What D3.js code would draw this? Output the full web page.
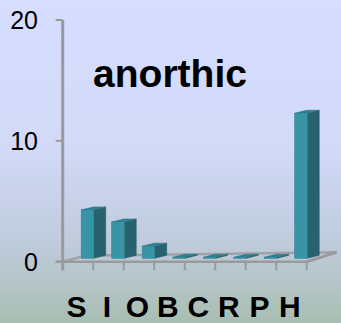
<!DOCTYPE html>
<html>
    <head>
        <script type="text/javascript" src="https://cdn.jsdelivr.net/npm/d3@7"></script>
        <style type="text/css">
            body { margin: 0; }
            text { font-family: "Liberation Sans", Arial, sans-serif; fill: black; }
        </style>
    </head>
    <body>
        <script type="text/javascript">

            // data
            var categories = ["S", "I", "O", "B", "C", "R", "P", "H"];
            var values = [4, 3, 1, 0, 0, 0, 0, 12];
            var yTicks = [0, 10, 20];
            var title = "anorthic";

            var w = 341;
            var h = 323;

            var svg = d3.select("body")
                        .append("svg")
                        .attr("width", w)
                        .attr("height", h);

            // background gradient
            var grad = svg.append("defs").append("linearGradient")
                          .attr("id", "bg")
                          .attr("x1", 0).attr("y1", 0)
                          .attr("x2", 0).attr("y2", 1);
            grad.append("stop").attr("offset", "0%").attr("stop-color", "#d6ddff");
            grad.append("stop").attr("offset", "45%").attr("stop-color", "#d2daf8");
            grad.append("stop").attr("offset", "75%").attr("stop-color", "#c0cbdd");
            grad.append("stop").attr("offset", "100%").attr("stop-color", "#a8beb1");

            svg.append("rect")
               .attr("width", w)
               .attr("height", h)
               .attr("fill", "url(#bg)");

            // scales
            var x = d3.scaleBand()
                      .domain(categories)
                      .range([62.7, 306.7]);

            var y = d3.scaleLinear()
                      .domain([0, 20])
                      .range([261.7, 20]);

            var axisColor = "#9a9a9a";

            // 3d depth of the floor and of the bars
            var floorDx = 30, floorDy = -9.5;
            var barDx = 12, barDy = -3;
            var barOff = 18.5, barW = 12.5, barLift = 3.4;

            // floor
            var x0 = x.range()[0], x1 = x.range()[1], y0 = y(0);
            svg.append("path")
               .attr("d", "M" + x0 + "," + y0 + "L" + (x0 + 22) + "," + (y0 - 6) +
                          "L" + (x1 + floorDx) + "," + (y0 + floorDy) +
                          "L" + x1 + "," + y0)
               .attr("fill", "none")
               .attr("stroke", "#a0a2a8")
               .attr("stroke-width", 2.5);

            // x ticks
            svg.selectAll("line.xtick")
               .data(categories.map(function(c) { return x(c); }).concat([x1]))
               .enter()
               .append("line")
               .attr("class", "xtick")
               .attr("x1", function(d) { return d; })
               .attr("x2", function(d) { return d; })
               .attr("y1", y0)
               .attr("y2", y0 + 8.5)
               .attr("stroke", axisColor)
               .attr("stroke-width", 2);

            // bars
            var bars = svg.selectAll("g.bar")
                          .data(values)
                          .enter()
                          .append("g")
                          .attr("class", "bar");

            function barLeft(d, i) { return x(categories[i]) + barOff; }
            function barBase() { return y(0) - barLift; }
            function barTop(d) { return Math.min(y(d) - barLift, barBase() - 1); }

            bars.append("path")   // side
                .attr("d", function(d, i) {
                    var l = barLeft(d, i) + barW, t = barTop(d), b = barBase();
                    return "M" + l + "," + t + "L" + (l + barDx) + "," + (t + barDy) +
                           "L" + (l + barDx) + "," + (b + barDy) + "L" + l + "," + b + "Z";
                })
                .attr("fill", "#27626e")
                .attr("stroke", "#235a66")
                .attr("stroke-width", 0.6);

            bars.append("path")   // top
                .attr("d", function(d, i) {
                    var l = barLeft(d, i), t = barTop(d);
                    return "M" + l + "," + t + "L" + (l + barDx) + "," + (t + barDy) +
                           "L" + (l + barW + barDx) + "," + (t + barDy) + "L" + (l + barW) + "," + t + "Z";
                })
                .attr("fill", "#2f8291")
                .attr("stroke", "#2a7380")
                .attr("stroke-width", 0.6);

            bars.append("rect")   // front
                .attr("x", barLeft)
                .attr("y", barTop)
                .attr("width", barW)
                .attr("height", function(d) { return barBase() - barTop(d); })
                .attr("fill", "#3895a6")
                .attr("stroke", "#2f8596")
                .attr("stroke-width", 0.6);

            // front floor edge and right edge
            svg.append("path")
               .attr("d", "M" + (x0 - 7) + "," + y0 + "L" + x1 + "," + y0 +
                          "L" + (x1 + floorDx) + "," + (y0 + floorDy))
               .attr("fill", "none")
               .attr("stroke", axisColor)
               .attr("stroke-width", 2.5);

            // y axis
            svg.append("line")
               .attr("x1", x0).attr("x2", x0)
               .attr("y1", y(20)).attr("y2", y0 + 8.5)
               .attr("stroke", axisColor)
               .attr("stroke-width", 3);

            svg.selectAll("line.ytick")
               .data(yTicks)
               .enter()
               .append("line")
               .attr("class", "ytick")
               .attr("x1", x0 - 7)
               .attr("x2", x0)
               .attr("y1", function(d) { return y(d); })
               .attr("y2", function(d) { return y(d); })
               .attr("stroke", axisColor)
               .attr("stroke-width", 2);

            svg.selectAll("text.ylab")
               .data(yTicks)
               .enter()
               .append("text")
               .attr("class", "ylab")
               .attr("x", 38)
               .attr("y", function(d) { return y(d) + 9; })
               .attr("text-anchor", "end")
               .style("font-size", "25px")
               .text(function(d) { return d; });

            // category labels
            svg.selectAll("text.xlab")
               .data(categories)
               .enter()
               .append("text")
               .attr("class", "xlab")
               .attr("x", function(d) { return x(d) + x.bandwidth() / 2 - 1.5; })
               .attr("y", 317)
               .attr("text-anchor", "middle")
               .style("font-size", "30px")
               .style("font-weight", "bold")
               .text(function(d) { return d; });

            // title
            svg.append("text")
               .attr("x", 170)
               .attr("y", 87)
               .attr("text-anchor", "middle")
               .style("font-size", "39px")
               .style("font-weight", "bold")
               .text(title);

        </script>
    </body>
</html>
